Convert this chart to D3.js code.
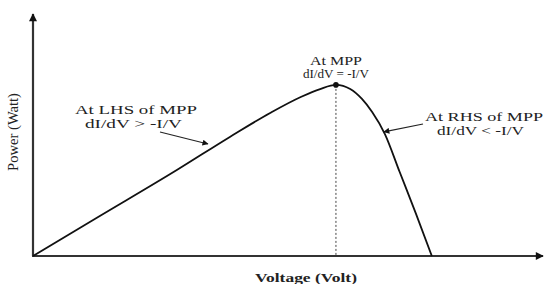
<!DOCTYPE html>
<html><head><meta charset="utf-8">
<script src="https://cdn.jsdelivr.net/npm/d3@7"></script>
<style>body{margin:0;background:#fff}svg{display:block}text{font-family:"Liberation Serif","Times New Roman",serif;fill:#222}</style>
</head><body>
<script>
// P-V curve of a PV module (arbitrary units)
const voltage = [0, 13.1, 28.2, 38.6, 46.5, 52.5, 56.3, 59.4, 62.2, 64.5, 66.5, 69.0, 71.9, 75.1, 78.2];
const power   = [0, 16.5, 35.5, 49.2, 59.1, 65.7, 69.0, 70.7, 69.0, 64.9, 59.5, 50.4, 34.7, 17.4, 0];
const mpp = {v: 59.4, p: 70.7};
const xLabel = "Voltage (Volt)";
const yLabel = "Power (Watt)";
const notes = [
  ["At MPP", "dI/dV = -I/V"],
  ["At LHS of MPP", "dI/dV > -I/V"],
  ["At RHS of MPP", "dI/dV < -I/V"]
];

const W = 544, H = 284;
const svg = d3.select("body").append("svg").attr("width", W).attr("height", H);
const x = d3.scaleLinear().domain([0, 100]).range([33, 543]);
const y = d3.scaleLinear().domain([0, 100]).range([256, 14]);

const defs = svg.append("defs");
function marker(id, w, h) {
  defs.append("marker").attr("id", id).attr("viewBox", "0 0 10 10")
    .attr("refX", 9).attr("refY", 5).attr("markerWidth", w).attr("markerHeight", h)
    .attr("orient", "auto").attr("markerUnits", "userSpaceOnUse")
    .append("path").attr("d", "M0,0L10,5L0,10Z").attr("fill", "#111");
}
marker("ax", 9, 8);
marker("an", 9, 6);

// axes
svg.append("line").attr("x1", x(0)).attr("y1", y(0)).attr("x2", x(0)).attr("y2", y(100))
  .attr("stroke", "#333").attr("stroke-width", 2.2).attr("marker-end", "url(#ax)");
svg.append("line").attr("x1", x(0) - 1).attr("y1", y(0)).attr("x2", x(100)).attr("y2", y(0))
  .attr("stroke", "#333").attr("stroke-width", 2.2).attr("marker-end", "url(#ax)");

// dotted MPP line
svg.append("line").attr("x1", x(mpp.v)).attr("x2", x(mpp.v)).attr("y1", y(mpp.p)).attr("y2", y(0))
  .attr("stroke", "#444").attr("stroke-width", 1).attr("stroke-dasharray", "2,2");

// curve
const pts = voltage.map((v, i) => [v, power[i]]);
svg.append("path").datum(pts)
  .attr("d", d3.line().x(d => x(d[0])).y(d => y(d[1])).curve(d3.curveMonotoneX))
  .attr("fill", "none").attr("stroke", "#111").attr("stroke-width", 1.8);

svg.append("circle").attr("cx", x(mpp.v)).attr("cy", y(mpp.p)).attr("r", 2.8).attr("fill", "#111");

// labels
function txt(t, cx, by, len, size) {
  svg.append("text").attr("x", cx).attr("y", by).attr("text-anchor", "middle")
    .attr("font-size", size).attr("textLength", len).attr("lengthAdjust", "spacingAndGlyphs").text(t);
}
txt(notes[0][0], x(mpp.v), 64.5, 52, 13);
txt(notes[0][1], x(mpp.v), 78, 66, 13);
txt(notes[1][0], 136, 114, 122, 13.5);
txt(notes[1][1], 133.5, 128, 97, 13.5);
txt(notes[2][0], 484, 121, 118, 13.5);
txt(notes[2][1], 480.5, 135, 87, 13.5);

// annotation arrows
svg.append("line").attr("x1", 160).attr("y1", 132).attr("x2", x(34.3)).attr("y2", y(46.3))
  .attr("stroke", "#222").attr("stroke-width", 1.1).attr("marker-end", "url(#an)");
svg.append("line").attr("x1", 423).attr("y1", 124).attr("x2", x(68.8)).attr("y2", y(51.3))
  .attr("stroke", "#222").attr("stroke-width", 1.1).attr("marker-end", "url(#an)");

// axis titles
svg.append("text").attr("x", 306).attr("y", 282).attr("text-anchor", "middle")
  .attr("font-size", 12.5).attr("font-weight", "bold").attr("textLength", 102)
  .attr("lengthAdjust", "spacingAndGlyphs").text(xLabel);
svg.append("text").attr("transform", "translate(18,132) rotate(-90)").attr("text-anchor", "middle")
  .attr("font-size", 15).attr("textLength", 78).attr("lengthAdjust", "spacingAndGlyphs").text(yLabel);
</script>
</body></html>
